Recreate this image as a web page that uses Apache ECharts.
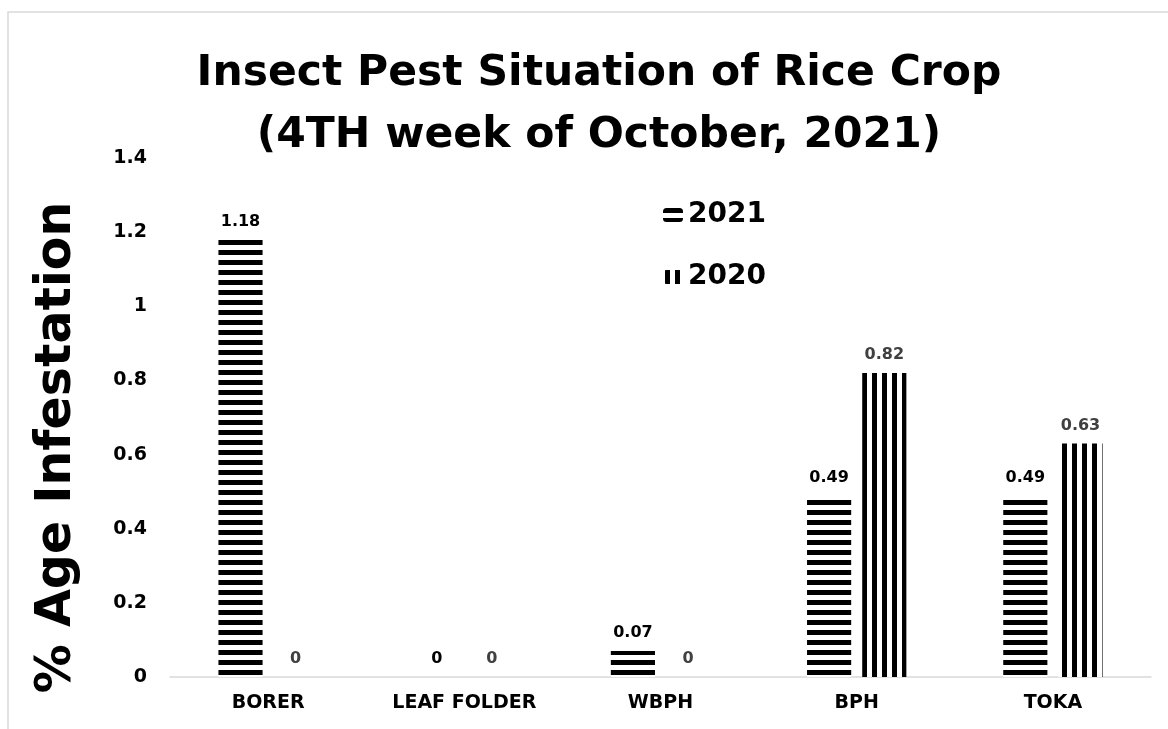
<!DOCTYPE html>
<html>
<head>
<meta charset="utf-8">
<script src="https://cdn.jsdelivr.net/npm/echarts@6/dist/echarts.min.js"></script>
<style>
  html, body { margin: 0; padding: 0; background: #fff; }
  #chart { width: 1168px; height: 729px; }
</style>
</head>
<body>
<div id="chart"></div>
<script>
const categories = ["BORER", "LEAF FOLDER", "WBPH", "BPH", "TOKA"];
const values2021 = [1.18, 0, 0.07, 0.49, 0.49];
const values2020 = [0, 0, 0, 0.82, 0.63];
const yTicks = { min: 0, max: 1.4, interval: 0.2 };

const FONT = "DejaVu Sans";

function stripes(horizontal) {
  const c = document.createElement("canvas");
  c.width = 10;
  c.height = 10;
  const ctx = c.getContext("2d");
  ctx.fillStyle = "#fff";
  ctx.fillRect(0, 0, 10, 10);
  ctx.fillStyle = "#000";
  if (horizontal) ctx.fillRect(0, 0, 10, 5);
  else ctx.fillRect(2, 0, 5, 10);
  return { image: c, repeat: "repeat" };
}

const chart = echarts.init(document.getElementById("chart"));
chart.setOption({
  animation: false,
  title: {
    text: "Insect Pest Situation of Rice Crop\n(4TH week of October, 2021)",
    left: 594,
    textAlign: "center",
    top: 38,
    textStyle: {
      fontFamily: FONT,
      fontWeight: "bold",
      fontSize: 42.5,
      lineHeight: 62,
      color: "#000",
    },
  },
  graphic: [
    {
      type: "rect",
      shape: { x: 8, y: 12, width: 1200, height: 800 },
      style: { fill: "none", stroke: "#d9d9d9", lineWidth: 1.5 },
      silent: true,
    },
  ],
  legend: {
    orient: "vertical",
    left: 658,
    top: 196,
    itemWidth: 20,
    itemHeight: 14,
    itemGap: 34,
    textStyle: {
      fontFamily: FONT,
      fontWeight: "bold",
      fontSize: 28,
      color: "#000",
    },
    data: ["2021", "2020"],
  },
  grid: { left: 170, right: 17, top: 158, bottom: 52 },
  xAxis: {
    type: "category",
    data: categories,
    axisTick: { show: false },
    axisLine: { lineStyle: { color: "#d9d9d9", width: 1.5 } },
    axisLabel: {
      fontFamily: FONT,
      fontWeight: "bold",
      fontSize: 19,
      color: "#000",
      margin: 17,
    },
  },
  yAxis: {
    type: "value",
    min: yTicks.min,
    max: yTicks.max,
    interval: yTicks.interval,
    name: "% Age Infestation",
    nameLocation: "middle",
    nameGap: 88,
    nameTextStyle: {
      fontFamily: FONT,
      fontWeight: "bold",
      fontSize: 49,
      color: "#000",
      padding: [0, 60, 0, 0],
    },
    splitLine: { show: false },
    axisLine: { show: false },
    axisTick: { show: false },
    axisLabel: {
      fontFamily: FONT,
      fontWeight: "bold",
      fontSize: 19,
      color: "#000",
      margin: 23,
    },
  },
  series: [
    {
      name: "2021",
      type: "bar",
      data: values2021,
      barWidth: "22.5%",
      barGap: "25%",
      itemStyle: { color: stripes(true) },
      label: {
        show: true,
        position: "top",
        distance: 10,
        fontFamily: FONT,
        fontWeight: "bold",
        fontSize: 16,
        color: "#000",
      },
    },
    {
      name: "2020",
      type: "bar",
      data: values2020,
      barWidth: "22.5%",
      itemStyle: { color: stripes(false) },
      label: {
        show: true,
        position: "top",
        distance: 10,
        fontFamily: FONT,
        fontWeight: "bold",
        fontSize: 16,
        color: "#404040",
      },
    },
  ],
});
</script>
</body>
</html>
